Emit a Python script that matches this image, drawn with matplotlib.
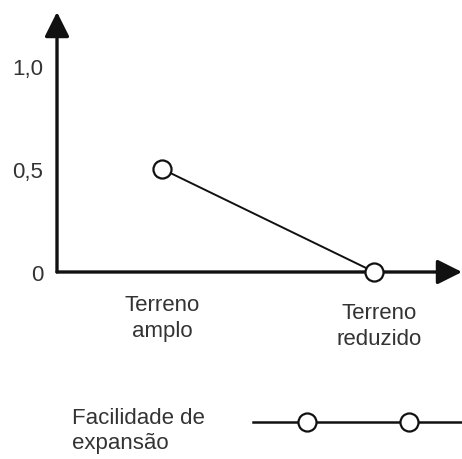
import matplotlib.pyplot as plt
import matplotlib.transforms as mtransforms

# dados
categorias = ["Terreno\namplo", "Terreno\nreduzido"]
valores = [0.5, 0.0]
yticks = [0, 0.5, 1.0]
ytick_labels = ["0", "0,5", "1,0"]
serie = "Facilidade de\nexpansão"

plt.rcParams['font.family'] = ['Liberation Sans', 'DejaVu Sans']
cor_txt = '#333333'
cor_eixo = '#111111'

W, H = 462, 460
fig = plt.figure(figsize=(W / 100, H / 100), dpi=100)

# eixo principal (em pixels da figura)
x0, x1, y0, y1 = 57, 462, 273, 13
ax = fig.add_axes([x0 / W, 1 - y0 / H, (x1 - x0) / W, (y0 - y1) / H])
ax.set_xlim(-0.495, 1.413)
ax.set_ylim(0, 1.262)
for s in ax.spines.values():
    s.set_visible(False)

# setas dos eixos
seta = dict(arrowstyle='-|>,head_length=1.5,head_width=0.75', color=cor_eixo,
            lw=2.4, shrinkA=0, shrinkB=0)
ax.annotate('', xy=(0, 1), xytext=(0, 0), xycoords='axes fraction',
            arrowprops=seta, annotation_clip=False)
ax.annotate('', xy=(1, 0), xytext=(0, 0), xycoords='axes fraction',
            arrowprops=seta, annotation_clip=False)

ax.plot(range(len(valores)), valores, color=cor_eixo, lw=1.4, marker='o',
        markersize=13, markerfacecolor='white', markeredgecolor=cor_eixo,
        markeredgewidth=1.6, clip_on=False, zorder=5)

ax.set_yticks(yticks)
ax.set_yticklabels(ytick_labels, fontsize=16, color=cor_txt)
ax.set_xticks(range(len(categorias)))
ax.set_xticklabels(categorias, fontsize=16, color=cor_txt, linespacing=1.3)
ax.tick_params(axis='y', length=0, pad=10)
ax.tick_params(axis='x', length=0, pad=16)

# pequeno deslocamento do segundo rótulo, como no original
lbl = ax.get_xticklabels()[1]
lbl.set_transform(lbl.get_transform() +
                  mtransforms.ScaledTranslation(0.05, -0.08, fig.dpi_scale_trans))

# legenda
fig.text(72 / W, 1 - 431 / H, serie, fontsize=16, color=cor_txt,
         va='center', ha='left', linespacing=1.3)
lx0, lx1 = 253, 462
lax = fig.add_axes([lx0 / W, 1 - 433 / H, (lx1 - lx0) / W, 20 / H])
lax.set_xlim(0, 1)
lax.set_ylim(0, 1)
lax.axis('off')
lax.plot([0, 1], [0.5, 0.5], color=cor_eixo, lw=1.8, clip_on=False)
lax.plot([0.258, 0.746], [0.5, 0.5], lw=0, marker='o', markersize=13,
         markerfacecolor='white', markeredgecolor=cor_eixo,
         markeredgewidth=1.6, clip_on=False)

fig.savefig('out.png', dpi=100, facecolor='white')
